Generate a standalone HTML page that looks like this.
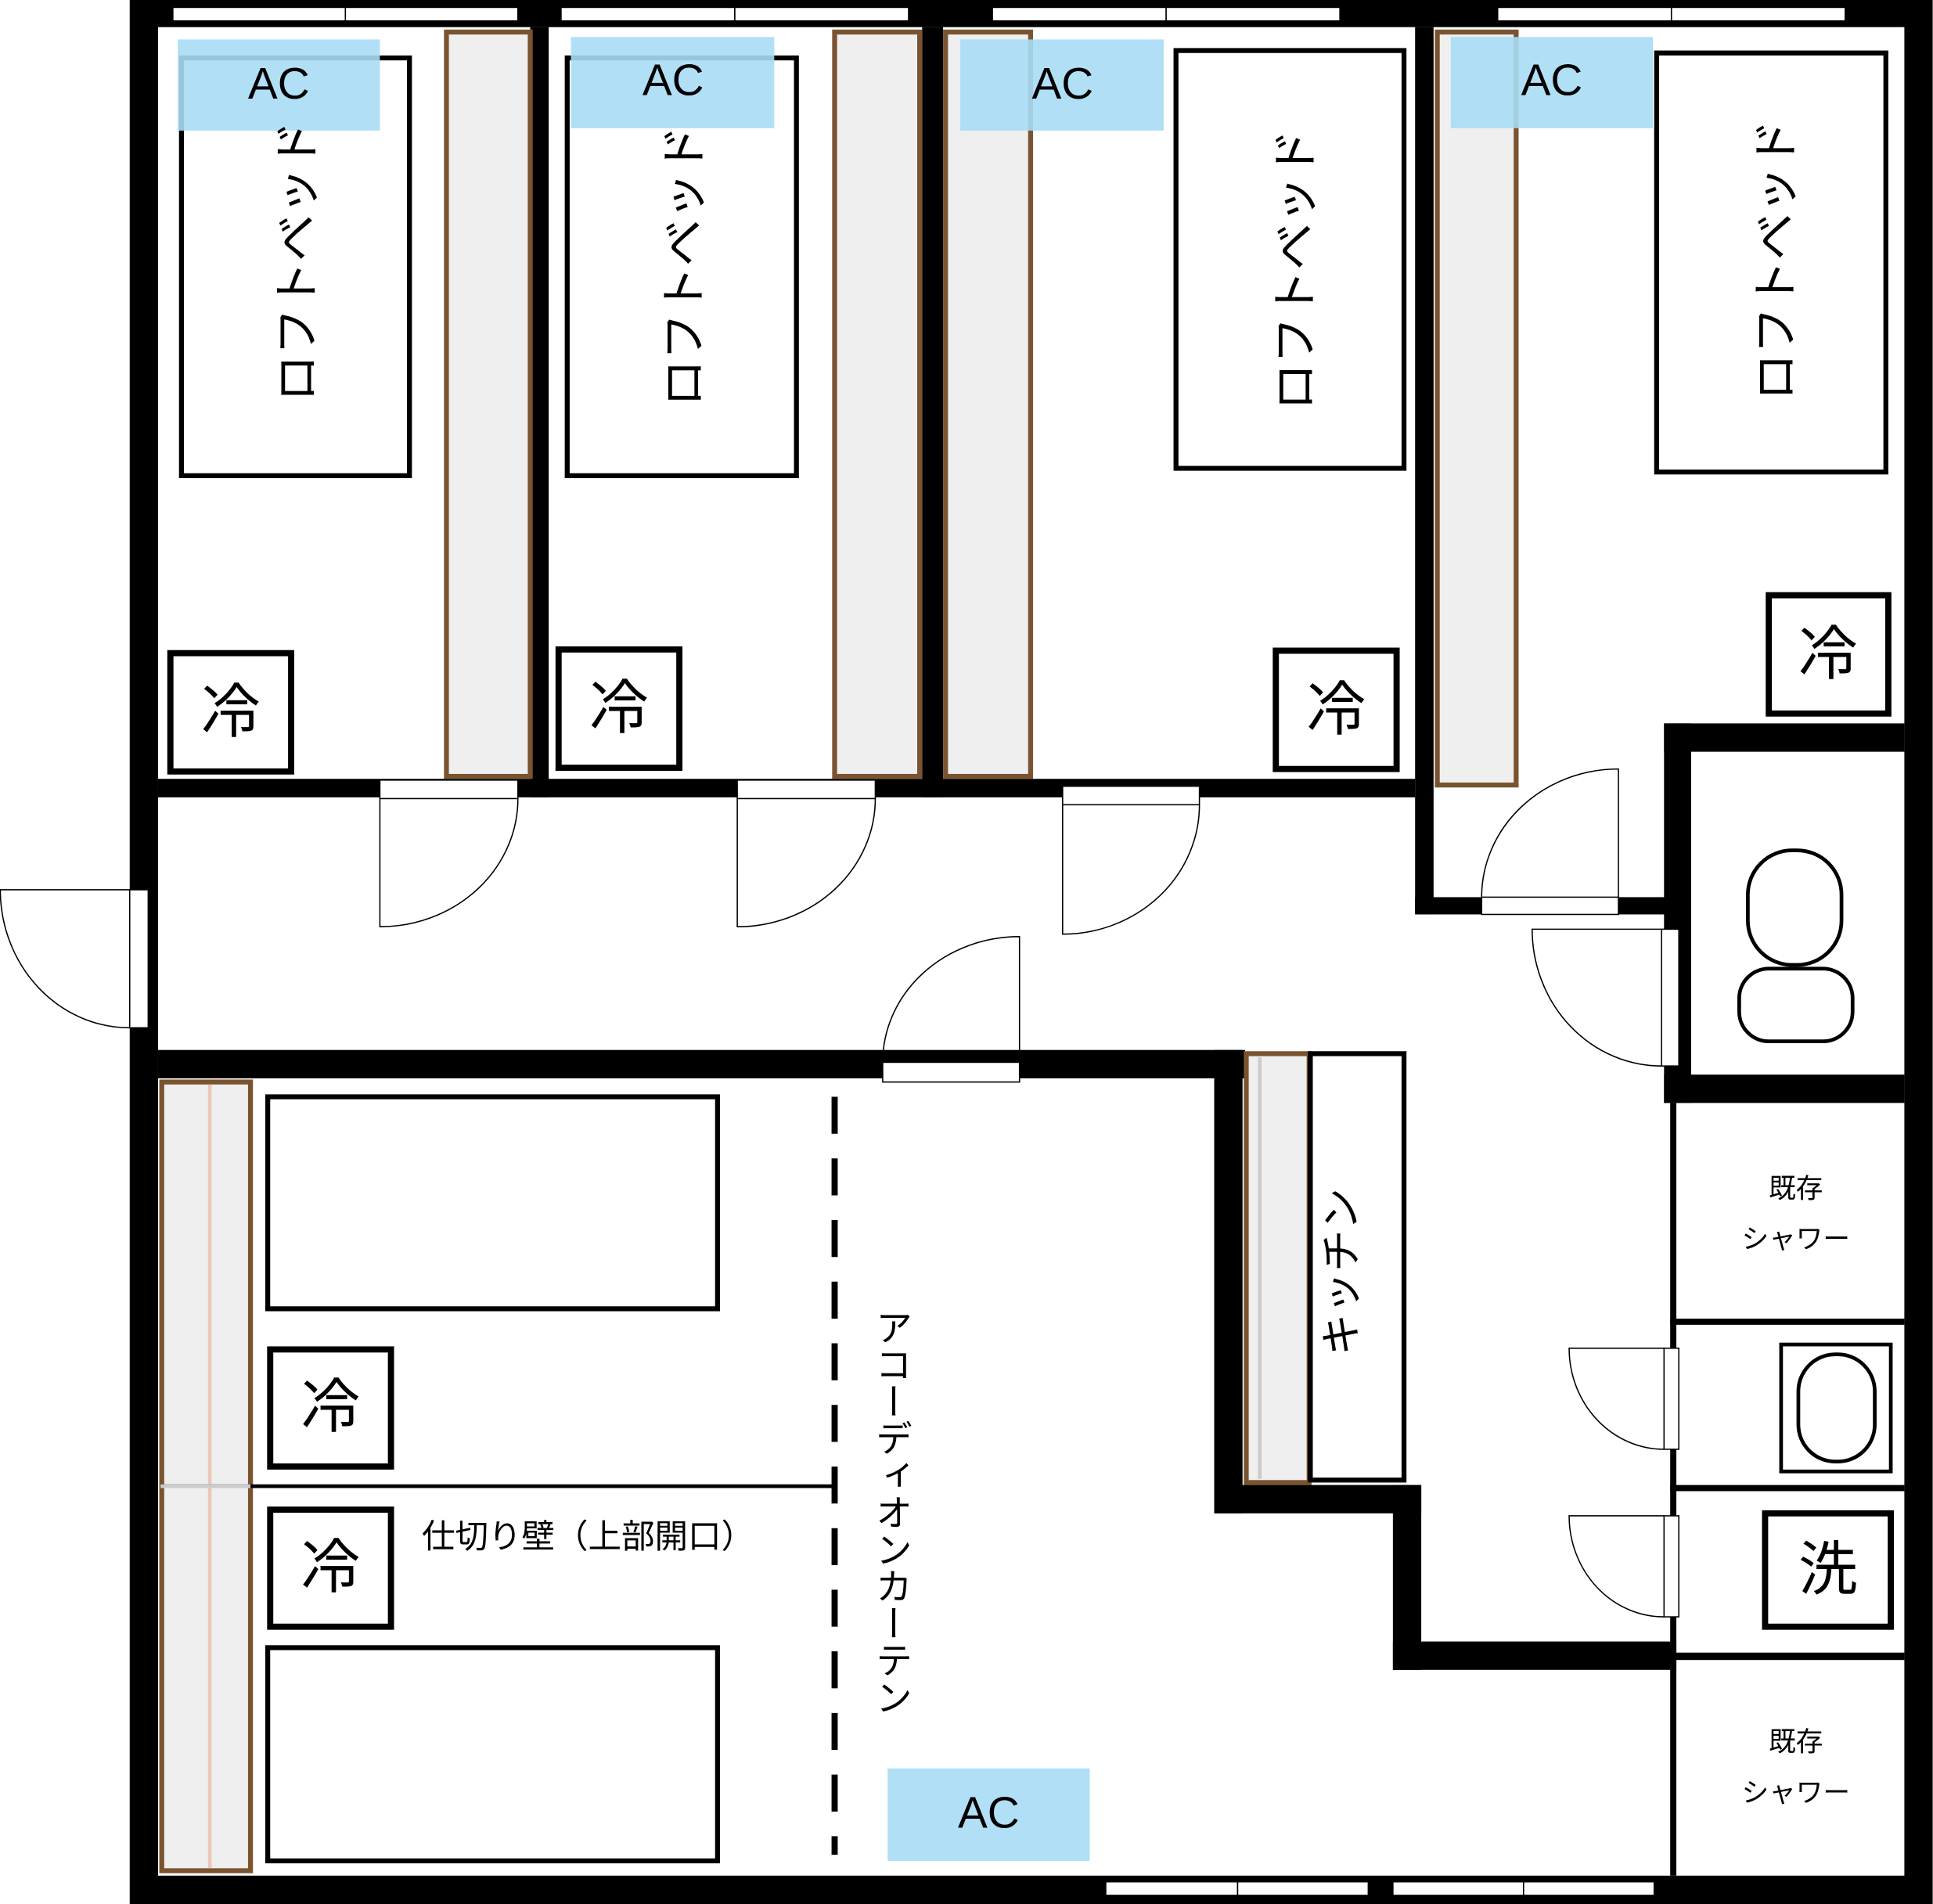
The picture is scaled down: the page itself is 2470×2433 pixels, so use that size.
<!DOCTYPE html>
<html><head><meta charset="utf-8"><style>
html,body{margin:0;padding:0;background:#fff;}
svg{display:block;}
text{font-family:"Liberation Sans","Noto Sans CJK JP",sans-serif;fill:#000;}
</style></head><body>
<svg width="2470" height="2433" viewBox="0 0 1568 1545" xmlns="http://www.w3.org/2000/svg">
<rect x="0" y="0" width="1568" height="1545" fill="#fff"/>
<!-- outer walls -->
<rect x="105" y="0" width="1463" height="1545" fill="#000"/>
<rect x="128" y="22" width="1417" height="1500" fill="#fff"/>
<!-- top windows -->
<g fill="#fff" stroke="#000" stroke-width="1">
<rect x="140" y="6" width="140" height="11"/><rect x="280" y="6" width="140" height="11"/>
<rect x="455" y="6" width="141" height="11"/><rect x="596" y="6" width="141" height="11"/>
<rect x="805" y="6" width="141" height="11"/><rect x="946" y="6" width="141" height="11"/>
<rect x="1215" y="6" width="141" height="11"/><rect x="1356" y="6" width="141" height="11"/>
<rect x="897" y="1527" width="107" height="11"/><rect x="1004" y="1527" width="106" height="11"/>
<rect x="1130" y="1527" width="106" height="11"/><rect x="1236" y="1527" width="106" height="11"/>
</g>
<!-- interior walls -->
<g fill="#000">
<rect x="430" y="22" width="15" height="625"/>
<rect x="748" y="22" width="17" height="625"/>
<rect x="1148" y="22" width="15" height="720"/>
<rect x="128" y="632" width="1020" height="15"/>
<rect x="1148" y="728" width="212" height="14"/>
<rect x="1350" y="587" width="22" height="308"/>
<rect x="1350" y="587" width="195" height="23"/>
<rect x="1350" y="872" width="195" height="23"/>
<rect x="128" y="852" width="882" height="23"/>
<rect x="985" y="852" width="23" height="376"/>
<rect x="985" y="1205" width="168" height="23"/>
<rect x="1130" y="1205" width="23" height="150"/>
<rect x="1130" y="1332" width="230" height="23"/>
<rect x="1355" y="895" width="5" height="627"/>
<rect x="1355" y="1070" width="190" height="5"/>
<rect x="1355" y="1205" width="190" height="5"/>
<rect x="1355" y="1341" width="190" height="6"/>
</g>
<!-- closets -->
<g fill="#efefef" stroke="#7a5430" stroke-width="4">
<rect x="362" y="26" width="68" height="604"/>
<rect x="677" y="26" width="69" height="604"/>
<rect x="767" y="26" width="69" height="604"/>
<rect x="1166" y="26" width="64" height="611"/>
<rect x="1011" y="855" width="51" height="348"/>
<rect x="131" y="878" width="72" height="640"/>
</g>
<line x1="170" y1="880" x2="170" y2="1516" stroke="#e8c8b8" stroke-width="3"/>
<line x1="1022" y1="858" x2="1022" y2="1200" stroke="#ccc" stroke-width="3"/>
<line x1="130" y1="1206" x2="677" y2="1206" stroke="#000" stroke-width="3"/>
<line x1="130" y1="1206" x2="203" y2="1206" stroke="#ccc" stroke-width="3"/>
<!-- loft beds -->
<g fill="none" stroke="#000" stroke-width="4">
<rect x="147" y="47" width="185" height="339"/>
<rect x="460" y="47" width="186" height="339"/>
<rect x="954" y="41" width="185" height="339"/>
<rect x="1344" y="43" width="186" height="340"/>
<rect x="217" y="890" width="365" height="172"/>
<rect x="217" y="1337" width="365" height="173"/>
<rect x="1063" y="855" width="76" height="346"/>
</g>
<!-- AC -->
<g fill="#a8dcf5" fill-opacity="0.9">
<rect x="144" y="32" width="164" height="74"/>
<rect x="463" y="30" width="165" height="74"/>
<rect x="779" y="32" width="165" height="74"/>
<rect x="1177" y="30" width="164" height="74"/>
<rect x="720" y="1435" width="164" height="75"/>
</g>
<g font-size="36" text-anchor="middle">
<text x="226" y="80">AC</text><text x="546" y="77">AC</text>
<text x="862" y="80">AC</text><text x="1259" y="77">AC</text>
<text x="802" y="1483">AC</text>
</g>
<g font-size="38">
<text transform="translate(254,326) rotate(-90)">ロフトベッド</text>
<text transform="translate(568,330) rotate(-90)">ロフトベッド</text>
<text transform="translate(1064,333) rotate(-90)">ロフトベッド</text>
<text transform="translate(1454,325) rotate(-90)">ロフトベッド</text>
</g>
<text transform="translate(1100,1100) rotate(-90)" font-size="34">キッチン</text>
<!-- fridges -->
<g fill="#fff" stroke="#000" stroke-width="5">
<rect x="138" y="530" width="98" height="96"/>
<rect x="453" y="527" width="98" height="96"/>
<rect x="1035" y="528" width="98" height="96"/>
<rect x="1435" y="483" width="97" height="96"/>
<rect x="219" y="1095" width="98" height="95"/>
<rect x="219" y="1225" width="98" height="95"/>
<rect x="1432" y="1228" width="102" height="92"/>
</g>
<g font-size="48" text-anchor="middle">
<text x="187" y="594">冷</text><text x="502" y="591">冷</text>
<text x="1084" y="592">冷</text><text x="1483" y="547">冷</text>
<text x="268" y="1158">冷</text><text x="268" y="1288">冷</text>
<text x="1483" y="1290">洗</text>
</g>
<text x="342" y="1256" font-size="27">仕切り壁（上部開口）</text>
<text x="722" y="1062" font-size="30" style="writing-mode:vertical-rl" dx="0">アコーディオンカーテン</text>
<g font-size="22" text-anchor="middle">
<text x="1457" y="972">既存</text><text x="1457" y="1013">シャワー</text>
<text x="1457" y="1421">既存</text><text x="1457" y="1462">シャワー</text>
</g>
<line x1="677" y1="890" x2="677" y2="1505" stroke="#000" stroke-width="5" stroke-dasharray="30,20"/>
<!-- doors -->
<g fill="#fff" stroke="#000" stroke-width="1">
<rect x="308" y="633" width="112" height="15"/>
<rect x="598" y="633" width="112" height="15"/>
<rect x="862" y="638" width="111" height="15"/>
<rect x="1202" y="728" width="111" height="14"/>
<rect x="716" y="862" width="111" height="16"/>
<rect x="105" y="722" width="15" height="112"/>
<rect x="1348" y="754" width="14" height="111"/>
<rect x="1350" y="1094" width="12" height="82"/>
<rect x="1350" y="1230" width="12" height="82"/>
</g>
<g fill="none" stroke="#000" stroke-width="1">
<path d="M308 648 V752 A112 104 0 0 0 420 648"/>
<path d="M598 648 V752 A112 104 0 0 0 710 648"/>
<path d="M862 653 V758 A111 105 0 0 0 973 653"/>
<path d="M1313 728 V624 A111 104 0 0 0 1202 728"/>
<path d="M827 862 V760 A111 102 0 0 0 716 862"/>
<path d="M105 722 H0 A105 112 0 0 0 105 834"/>
<path d="M1348 754 H1243 A105 111 0 0 0 1348 865"/>
<path d="M1350 1094 H1273 A77 82 0 0 0 1350 1176"/>
<path d="M1350 1230 H1273 A77 82 0 0 0 1350 1312"/>
</g>
<!-- toilets -->
<g fill="#fff" stroke="#000" stroke-width="3">
<rect x="1418" y="690" width="76" height="93" rx="36"/>
<rect x="1411" y="786" width="92" height="59" rx="24"/>
<rect x="1445" y="1091" width="89" height="103"/>
<rect x="1459" y="1099" width="62" height="87" rx="30"/>
</g>
</svg>
</body></html>
